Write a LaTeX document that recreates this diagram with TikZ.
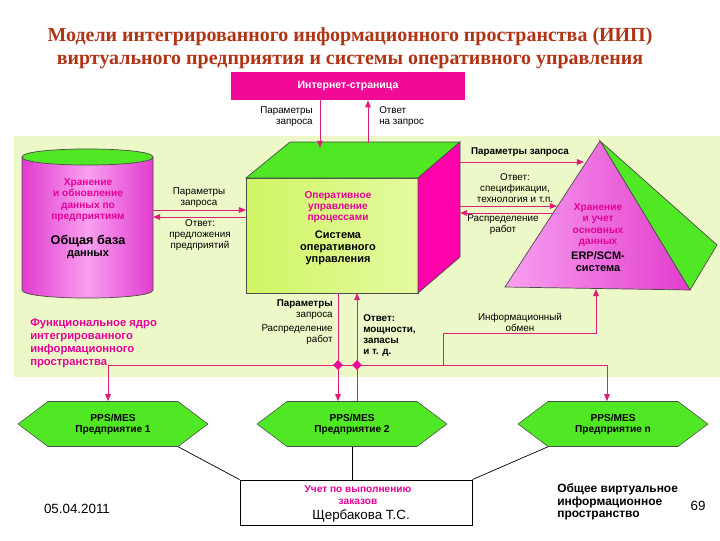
\documentclass[tikz,border=0pt]{standalone}
\usepackage{fontspec}
\setmainfont{Liberation Serif}
\setsansfont{Liberation Sans}
\usetikzlibrary{positioning, shapes.geometric, shapes.symbols, arrows.meta}

\definecolor{titlered}{RGB}{176,52,22}
\definecolor{pagemag}{RGB}{240,10,150}
\definecolor{textmag}{RGB}{228,0,150}
\definecolor{linemag}{RGB}{222,30,120}
\definecolor{panel}{RGB}{236,248,200}
\definecolor{brightgreen}{RGB}{80,232,36}
\definecolor{frontgreen}{RGB}{208,245,100}
\definecolor{frontlight}{RGB}{228,250,160}
\definecolor{pinkA}{RGB}{238,120,228}
\definecolor{pinkB}{RGB}{248,160,240}
\definecolor{pinkC}{RGB}{226,60,205}
\definecolor{sidemag}{RGB}{255,0,170}

\begin{document}
\begin{tikzpicture}[x=0.025cm, y=-0.025cm,
    lbl/.style = {font=\sffamily\fontsize{7}{7.8}\selectfont, align=center, inner sep=0pt},
    lblb/.style = {lbl, font=\sffamily\bfseries\fontsize{7}{7.8}\selectfont},
    magtext/.style = {font=\sffamily\bfseries\fontsize{7.2}{8}\selectfont, text=textmag, align=center, inner sep=0pt},
    blacktext/.style = {font=\sffamily\bfseries\fontsize{7.8}{8.6}\selectfont, align=center, inner sep=0pt},
    hexa/.style = {signal, signal to=west and east, signal pointer angle=74, draw=black!70, fill=brightgreen,
                   minimum width=135pt, minimum height=32pt, inner sep=0pt,
                   font=\sffamily\bfseries\fontsize{7.2}{8}\selectfont, align=center},
    flow/.style = {draw=linemag, line width=0.7pt, -{Triangle[length=5pt,width=4pt]}},
    bus/.style = {draw=linemag, line width=0.7pt},
    thin/.style = {draw=black, line width=0.5pt},
    junction/.style = {diamond, fill=pagemag, inner sep=0pt, minimum size=7pt},
    footer/.style = {font=\sffamily\fontsize{9.5}{10}\selectfont, inner sep=0pt}]

\useasboundingbox (0,0) rectangle (720,540);

% title
\node[font=\bfseries\fontsize{14.2}{16}\selectfont, text=titlered] (title1) at (350,37) {Модели интегрированного информационного пространства (ИИП)};
\node[font=\bfseries\fontsize{14.2}{16}\selectfont, text=titlered] (title2) at (350,62) {виртуального предприятия и системы оперативного управления};

% background panel
\fill[panel] (14,136) rectangle (720,377);

\node[fill=pagemag, minimum width=166pt, minimum height=20pt, inner sep=0pt,
      font=\sffamily\bfseries\fontsize{7.5}{8}\selectfont, text=white] (inet) at (348,86) {Интернет-страница};

% database cylinder
\shade[left color=pinkC, right color=pinkC, middle color=pinkB, draw=black!70, line width=0.5pt]
  (22,157) -- (22,290) .. controls (22,300.7) and (153,300.7) .. (153,290) -- (153,157) -- cycle;
\fill[brightgreen, draw=black!70, line width=0.5pt]
  (22,157) .. controls (22,146.3) and (153,146.3) .. (153,157) .. controls (153,167.7) and (22,167.7) .. (22,157) -- cycle;

% cube
\shade[left color=frontgreen, right color=frontlight, draw=black!70, line width=0.5pt] (246,178) rectangle (418,293);
\fill[brightgreen, draw=black!70, line width=0.5pt] (246,178) -- (290,142) -- (460,142) -- (418,178) -- cycle;
\fill[sidemag, draw=black!70, line width=0.5pt] (418,178) -- (460,142) -- (460,257) -- (418,293) -- cycle;

% pyramid
\fill[brightgreen, draw=black!70, line width=0.5pt] (600,141) -- (717,245) -- (690,290) -- cycle;
\shade[left color=pinkB, right color=pinkC, draw=black!70, line width=0.5pt] (600,141) -- (505,287) -- (690,290) -- cycle;

% texts in shapes
\node[magtext] (keep) at (88,200) {Хранение\\и обновление\\данных по\\предприятиям};
\node[blacktext] (commondb) at (88,247) {{\fontsize{9}{10}\selectfont Общая база}\\данных};
\node[magtext] (opctl) at (338,207) {Оперативное\\управление\\процессами};
\node[blacktext] (opsys) at (338,248) {Система\\оперативного\\управления};
\node[magtext] (keepbase) at (598,225) {Хранение\\и учет\\основных\\данных};
\node[blacktext] (erp) at (598,262) {ERP/SCM-\\система};

% connector ends
\coordinate (cubeq) at (320,148);
\coordinate (cubea) at (368,143);
\coordinate (dbR1) at (153,210);
\coordinate (dbR2) at (153,217);
\coordinate (cubeL1) at (246,210);
\coordinate (cubeL2) at (246,217);
\coordinate (cubeR1) at (460,162);
\coordinate (cubeR2) at (460,206);
\coordinate (cubeR3) at (460,213);
\coordinate (pyrL1) at (584,162);
\coordinate (pyrL2) at (557,206);
\coordinate (pyrL3) at (553,213);
\coordinate (cubeB1) at (338,293);
\coordinate (cubeB2) at (357,293);
\coordinate (pyrB) at (596,289);
\coordinate (busL) at (108,365);
\coordinate (busR) at (607,365);
\coordinate (infoA) at (443,365);
\coordinate (infoB) at (443,333);
\coordinate (infoC) at (596,333);

% hexagons and bottom box
\node[hexa] (h1) at (113,424) {PPS/MES\\Предприятие 1};
\node[hexa] (h2) at (352,424) {PPS/MES\\Предприятие 2};
\node[hexa] (hn) at (613,424) {PPS/MES\\Предприятие n};
\node[draw=black, line width=0.6pt, fill=white, minimum width=165pt, minimum height=32pt, inner sep=0pt] (orders) at (356,502.5) {};
\node[magtext] (orderstext) at (358,495) {Учет по выполнению\\заказов};

% connectors
\draw[flow] (inet.south -| cubeq) -- (cubeq);
\draw[flow] (cubea) -- (inet.south -| cubea);
\draw[flow] (dbR1) -- (cubeL1);
\draw[flow] (cubeL2) -- (dbR2);
\draw[flow] (cubeR1) -- (pyrL1);
\draw[flow] (cubeR2) -- (pyrL2);
\draw[flow] (pyrL3) -- (cubeR3);
\draw[bus] (busL) -- (busR);
\draw[flow] (busL) -- (busL |- h1.north);
\draw[flow] (busR) -- (busR |- hn.north);
\draw[flow] (cubeB1) -- (cubeB1 |- h2.north);
\draw[flow] (cubeB2 |- h2.north) -- (cubeB2);
\draw[flow] (infoA) -- (infoB) -- (infoC) -- (pyrB);
\node[junction] (j1) at (cubeB1 |- busL) {};
\node[junction] (j2) at (cubeB2 |- busL) {};
\draw[thin] (h1.south east) -- (orders.north west);
\draw[thin] (h2.south) -- (h2.south |- orders.north);
\draw[thin] (hn.south west) -- (orders.north east);

% labels
\node[lbl, anchor=east, align=right] (pq1) at (313,117) {Параметры\\запроса};
\node[lbl, anchor=west, align=left] (ans1) at (379,117) {Ответ\\на запрос};
\node[lbl] (pq2) at (199,198) {Параметры\\запроса};
\node[lbl] (ans2) at (200,235) {Ответ:\\предложения\\предприятий};
\node[lblb] (pq3) at (520,152) {Параметры запроса};
\node[lbl] (ans3) at (515,188) {Ответ:\\спецификации,\\технология и т.п.};
\node[lbl] (dist1) at (503,225) {Распределение\\работ};
\node[lblb, anchor=east, align=right] (pq4) at (333,310) {Параметры\\{\mdseries запроса}};
\node[lbl, anchor=east, align=right] (dist2) at (333,335) {Распределение\\работ};
\node[lblb, anchor=north west, align=left] (ans4) at (363,314) {Ответ:\\мощности,\\запасы\\и т. д.};
\node[lbl] (info) at (520,322) {Информационный\\обмен};
\node[magtext, anchor=north west, align=left, font=\sffamily\bfseries\fontsize{8}{9.3}\selectfont] (core) at (30,318) {Функциональное ядро\\интегрированного\\информационного\\пространства};
\node[blacktext, anchor=west, align=left, font=\sffamily\bfseries\fontsize{8.5}{9}\selectfont] (virt) at (557,502) {Общее виртуальное\\информационное\\пространство};

% footer
\node[footer] (date) at (77,509) {05.04.2011};
\node[footer] (author) at (361,516) {Щербакова Т.С.};
\node[footer] (page) at (698,506) {69};
\end{tikzpicture}
\end{document}
